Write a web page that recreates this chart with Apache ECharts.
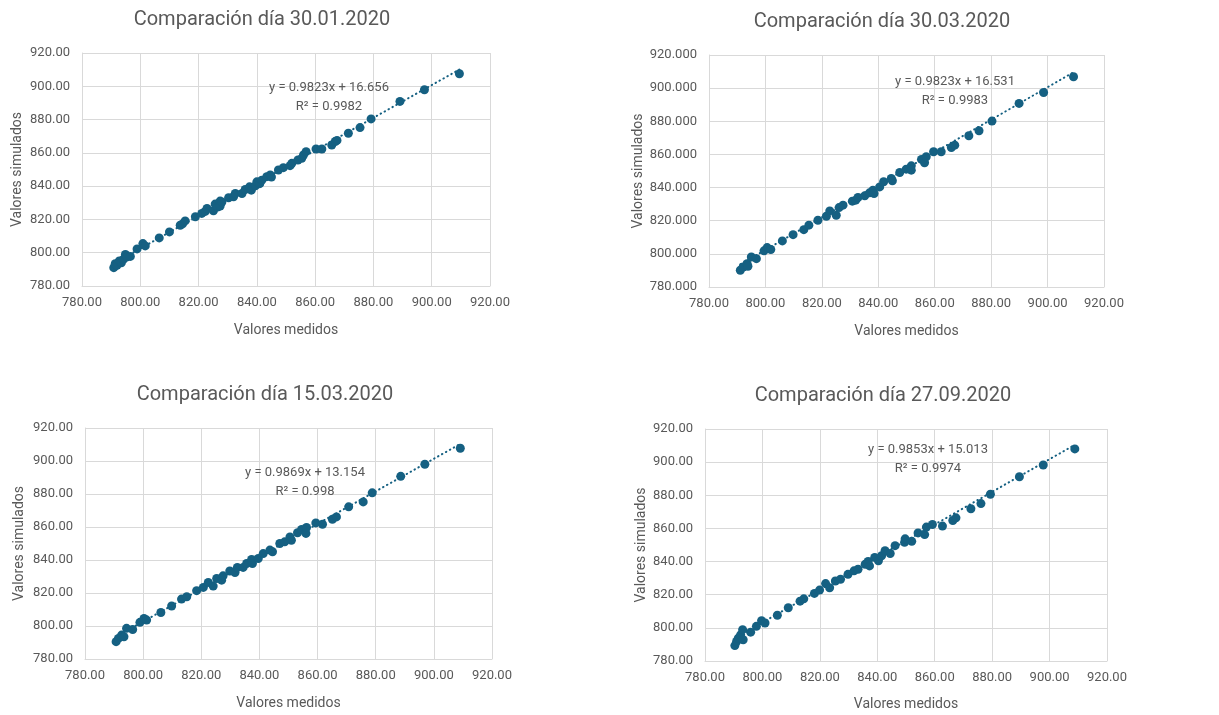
<!DOCTYPE html>
<html>
<head>
<meta charset="utf-8">
<script src="https://cdn.jsdelivr.net/npm/echarts@6/dist/echarts.min.js"></script>
<style>
html,body{margin:0;padding:0;background:#fff;}
#c{width:1219px;height:715px;}
</style>
</head>
<body>
<div id="c"></div>
<script>
// ---------- DATA ----------
const titles = ['Comparación día 30.01.2020', 'Comparación día 30.03.2020', 'Comparación día 15.03.2020', 'Comparación día 27.09.2020'];
const xAxisName = 'Valores medidos';
const yAxisName = 'Valores simulados';
const axisTicks = [780, 800, 820, 840, 860, 880, 900, 920];
const yDecimals = [2, 3, 2, 2];
const slopes = [0.9823, 0.9823, 0.9869, 0.9853];
const intercepts = [16.656, 16.531, 13.154, 15.013];
const equations = ['y = 0.9823x + 16.656', 'y = 0.9823x + 16.531', 'y = 0.9869x + 13.154', 'y = 0.9853x + 15.013'];
const r2Labels = ['R² = 0.9982', 'R² = 0.9983', 'R² = 0.998', 'R² = 0.9974'];

const measured1 = [790.9, 791.4, 792.0, 792.8, 793.5, 794.2, 794.9, 795.5, 796.6, 798.9,
  800.9, 801.7, 806.5, 810.0, 813.7, 814.5, 815.4, 818.9, 821.1, 822.3,
  822.9, 825.1, 825.7, 826.5, 827.4, 827.4, 828.0, 830.3, 832.0, 832.6,
  834.9, 836.0, 837.5, 838.1, 839.5, 840.0, 841.0, 841.7, 843.4, 844.6,
  845.0, 847.4, 849.1, 851.4, 852.0, 854.1, 855.4, 856.0, 856.9, 860.3,
  862.3, 865.7, 866.9, 867.5, 871.4, 875.4, 879.2, 889.1, 897.5, 909.5];
const simulated1 = [791.0, 793.4, 792.5, 795.0, 794.0, 796.0, 799.0, 797.5, 797.8, 802.3,
  805.5, 804.1, 808.9, 812.5, 816.5, 817.3, 819.1, 821.6, 823.6, 824.8,
  826.6, 825.2, 829.2, 827.5, 831.0, 828.0, 830.5, 833.0, 833.6, 835.6,
  835.6, 838.0, 839.6, 837.6, 840.2, 842.6, 841.5, 843.6, 845.7, 846.7,
  845.5, 849.7, 851.1, 852.3, 853.7, 855.7, 856.7, 858.7, 860.7, 862.3,
  862.3, 864.7, 866.8, 867.5, 871.8, 875.2, 880.4, 890.9, 897.9, 907.5];

const measured2 = [791.1, 792.1, 793.5, 793.8, 795.0, 796.8, 799.5, 800.6, 801.9, 806.0,
  809.8, 813.6, 815.4, 818.6, 821.6, 822.8, 825.1, 826.1, 827.5, 830.8,
  832.0, 832.8, 835.2, 836.9, 838.1, 838.5, 840.5, 841.9, 844.6, 845.0,
  847.6, 849.9, 851.7, 851.7, 855.3, 856.4, 857.0, 859.6, 862.3, 865.9,
  867.1, 872.1, 875.7, 880.3, 889.9, 898.6, 909.2];
const simulated2 = [790.1, 792.1, 794.1, 792.5, 798.1, 797.1, 801.8, 803.8, 802.6, 807.8,
  811.6, 814.6, 817.3, 820.3, 822.7, 825.9, 823.3, 827.9, 829.4, 831.8,
  832.4, 834.0, 835.0, 836.8, 838.4, 836.4, 840.4, 843.5, 845.5, 844.1,
  849.1, 851.1, 853.1, 850.5, 857.0, 855.0, 858.6, 861.6, 861.6, 864.2,
  865.6, 871.3, 874.3, 880.1, 890.8, 897.4, 906.9];

const measured3 = [790.7, 791.5, 792.6, 793.4, 794.3, 796.4, 798.9, 800.3, 801.2, 806.1,
  809.8, 813.2, 815.0, 818.4, 820.7, 822.4, 824.1, 825.3, 827.0, 827.5,
  829.8, 831.6, 832.4, 834.4, 835.6, 837.3, 837.6, 839.6, 841.3, 843.6,
  844.5, 847.0, 848.7, 850.5, 851.0, 853.1, 854.5, 856.0, 856.2, 859.4,
  861.7, 865.1, 866.5, 870.7, 875.7, 878.8, 888.6, 896.9, 909.1];
const simulated3 = [790.5, 792.5, 794.5, 793.5, 798.6, 797.9, 802.2, 804.6, 803.6, 808.2,
  812.1, 816.3, 817.7, 821.4, 823.4, 826.4, 824.2, 828.8, 827.8, 830.4,
  833.3, 832.4, 835.5, 835.5, 837.9, 840.3, 837.9, 840.9, 843.9, 846.0,
  845.0, 850.0, 851.0, 854.0, 852.0, 856.5, 858.5, 856.1, 859.7, 862.5,
  861.7, 864.7, 866.1, 872.2, 875.2, 880.7, 890.7, 898.0, 907.7];

const measured4 = [790.4, 791.0, 791.6, 792.4, 793.1, 793.3, 795.9, 797.9, 799.7, 800.9,
  805.2, 809.0, 813.1, 814.4, 818.1, 819.9, 822.0, 823.4, 825.4, 827.2,
  829.8, 831.9, 833.3, 835.8, 836.8, 837.3, 839.1, 840.4, 841.5, 842.7,
  844.5, 846.2, 849.5, 849.7, 852.0, 854.2, 856.5, 857.1, 859.2, 862.7,
  866.3, 867.4, 872.6, 876.1, 879.4, 889.5, 897.8, 908.8];
const simulated4 = [789.3, 791.8, 793.8, 795.8, 798.9, 792.8, 797.4, 800.9, 804.3, 802.9,
  807.6, 812.1, 816.1, 817.5, 820.8, 822.8, 826.7, 824.2, 828.3, 829.3,
  832.3, 834.4, 835.4, 838.4, 840.1, 837.4, 842.5, 840.5, 843.5, 846.6,
  844.9, 849.6, 851.6, 853.7, 852.2, 857.3, 856.3, 860.8, 862.4, 861.4,
  864.8, 866.4, 871.9, 875.0, 880.6, 891.2, 898.3, 908.0];

const measuredSets = [measured1, measured2, measured3, measured4];
const simulatedSets = [simulated1, simulated2, simulated3, simulated4];

// ---------- LAYOUT / STYLE ----------
const grids = [
  {left: 82, top: 53, width: 408, height: 233},
  {left: 709, top: 55, width: 395, height: 232},
  {left: 85, top: 428, width: 407, height: 231},
  {left: 705, top: 429, width: 402, height: 232}
];
const titlePos = [{x: 257, y: 5}, {x: 877, y: 7}, {x: 260, y: 380}, {x: 878, y: 381}];
const eqPos = [{x: 329, y: 78}, {x: 955, y: 72}, {x: 305, y: 463}, {x: 928, y: 440}];
const xNameGap = [37, 37, 37, 36];
const yNameGap = [58, 63, 59, 57];

const FONT = 'Roboto, "Liberation Sans", Arial, sans-serif';
const TXT = '#595959';
const GRID = '#d9d9d9';
const MARK = '#156082';

const option = {
  backgroundColor: '#ffffff',
  animation: false,
  title: [],
  grid: [],
  xAxis: [],
  yAxis: [],
  series: []
};

for (let i = 0; i < 4; i++) {
  option.grid.push(Object.assign({containLabel: false}, grids[i]));
  option.title.push({
    text: titles[i], left: titlePos[i].x, top: titlePos[i].y, textAlign: 'center',
    textStyle: {fontFamily: FONT, fontSize: 20, fontWeight: 'normal', color: TXT}
  });
  option.title.push({
    text: equations[i] + '\n' + r2Labels[i], left: eqPos[i].x, top: eqPos[i].y, textAlign: 'center',
    padding: 0,
    textStyle: {fontFamily: FONT, fontSize: 13, fontWeight: 'normal', color: TXT, lineHeight: 19, align: 'center'}
  });
  const common = {
    gridIndex: i, type: 'value', min: axisTicks[0], max: axisTicks[axisTicks.length - 1],
    interval: axisTicks[1] - axisTicks[0],
    axisLine: {show: true, lineStyle: {color: GRID, width: 1}},
    axisTick: {show: false},
    splitLine: {show: true, lineStyle: {color: GRID, width: 1}},
    nameLocation: 'middle',
    nameTextStyle: {fontFamily: FONT, fontSize: 14, color: TXT}
  };
  option.xAxis.push(Object.assign({}, common, {
    name: xAxisName, nameGap: xNameGap[i],
    axisLabel: {fontFamily: FONT, fontSize: 13, color: TXT, margin: 10, formatter: v => v.toFixed(2)}
  }));
  const dec = yDecimals[i];
  option.yAxis.push(Object.assign({}, common, {
    name: yAxisName, nameGap: yNameGap[i],
    axisLabel: {fontFamily: FONT, fontSize: 13, color: TXT, margin: 12, formatter: v => v.toFixed(dec)}
  }));

  const xs = measuredSets[i], ys = simulatedSets[i];
  const pts = xs.map((x, k) => [x, ys[k]]);
  const xmin = Math.min(...xs), xmax = Math.max(...xs);
  option.series.push({
    type: 'line', xAxisIndex: i, yAxisIndex: i, symbol: 'none', silent: true, z: 1,
    data: [[xmin, slopes[i] * xmin + intercepts[i]], [xmax, slopes[i] * xmax + intercepts[i]]],
    lineStyle: {color: MARK, width: 2, type: [0.5, 4], cap: 'round'}
  });
  option.series.push({
    type: 'scatter', xAxisIndex: i, yAxisIndex: i, z: 2,
    symbol: 'circle', symbolSize: 9,
    itemStyle: {color: MARK, opacity: 1},
    data: pts
  });
}

const chart = echarts.init(document.getElementById('c'), null, {renderer: 'canvas'});
chart.setOption(option);
</script>
</body>
</html>
